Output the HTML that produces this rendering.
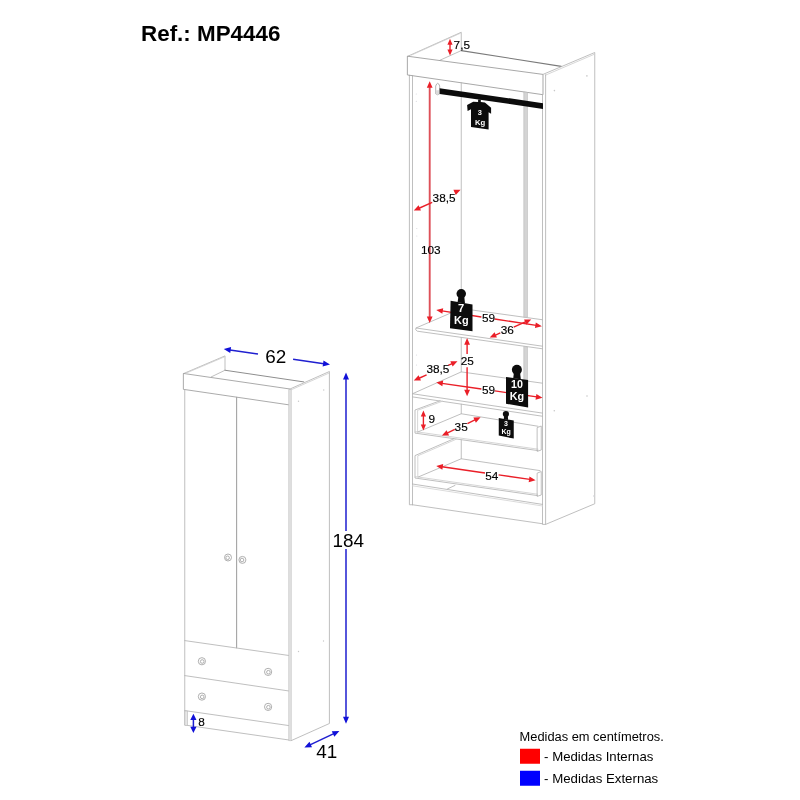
<!DOCTYPE html>
<html><head><meta charset="utf-8">
<style>
html,body{margin:0;padding:0;background:#fff;}
body{width:800px;height:800px;overflow:hidden;}
svg{display:block;will-change:transform;}
text{font-family:"Liberation Sans",sans-serif;fill:#000;}
.g{stroke:#b4b4b4;stroke-width:0.85;fill:none;stroke-linecap:round;stroke-linejoin:round;}
.gl{stroke:#c4c4c4;stroke-width:0.8;fill:none;}
.r{stroke:#ea1f28;stroke-width:1.4;fill:none;}
.rf{fill:#ea1f28;stroke:none;}
.b{stroke:#1f1fd0;stroke-width:1.5;fill:none;}
.bf{fill:#1111d8;stroke:none;}
.s{font-size:11.8px;stroke:#000;stroke-width:0.15px;}
.l{font-size:18.9px;}
.w{fill:#fff;font-weight:bold;text-anchor:middle;}
</style></head><body>
<svg width="800" height="800" viewBox="0 0 800 800">
<rect width="800" height="800" fill="#fff"/>
<text x="141" y="40.5" font-size="21.8" font-weight="bold" fill="#000" textLength="139.4" lengthAdjust="spacingAndGlyphs">Ref.: MP4446</text>

<!-- ================= OPEN CABINET ================= -->
<g class="g">
<!-- left panel -->
<path d="M409.4 75.3V504.75H412.5M412.5 76V504.75"/>
<!-- top of left panel -->
<path d="M407.75 56.25L461.25 32.25V50.6"/><path d="M411.5 55L460.3 33.3" stroke="#cfcfcf"/>
<path d="M461.25 50.6L439.8 60.3"/>
<path d="M461.25 50.6L561.25 66.4" stroke="#7a7a7a" stroke-width="1.1"/>
<!-- top rail -->
<path d="M407.75 56.25L543 74.4V94.7L407.75 75Z" stroke="#989898"/>
<!-- right panel -->
<path d="M543 74.4L594.75 52.5V503.75L545.6 524.4"/>
<path d="M545.4 75.2L594.2 54.3" stroke="#cfcfcf"/>
<path d="M542.5 94.7V524.4H545.6V74.8"/>
<!-- back-left vertical -->
<path d="M461.25 82.7V309M461.25 337.5V371.9M461.25 404.2V413.75M461.25 440V458.75"/>
<!-- shelf 1 -->
<path d="M416 328L461.25 308.5L542.5 319.75"/>
<path d="M542.5 346.2L416.2 328Q414.6 329.8 417.3 331.2L542.5 348.8"/>
<!-- shelf 2 -->
<path d="M412.5 393.75L461.25 371.9L542.5 383.2"/>
<path d="M412.5 393.75L542.5 413.1M412.5 396.9L542.5 416.25"/>
<!-- drawer 1 -->
<path d="M440 400.8L415 410V433.1L538 450.6"/>
<path d="M442.5 401.2L417.6 410.3V432.2" stroke="#cfcfcf"/>
<path d="M415.3 431.6L538 449.2" stroke="#cfcfcf"/>
<path d="M418 431.9L461.25 413.75L538 426.25"/>
<path d="M537.5 427.5L541.25 426V450L537.5 451.25Z"/>
<!-- drawer 2 -->
<path d="M453.75 438.8L415 455.6V478L537.5 495.6"/>
<path d="M456.3 439.2L417.8 455.8V477.2" stroke="#cfcfcf"/>
<path d="M415.3 476.6L537.5 494.2" stroke="#cfcfcf"/>
<path d="M418.5 476.9L461.25 458.75L540 470.6"/>
<path d="M537.5 473L541.25 471.5V495L537.5 496.25Z"/>
<!-- plinth -->
<path d="M412.5 484L542.5 504.4"/><path d="M412.5 485.8L542.5 506" stroke="#d4d4d4"/>
<path d="M412.5 504.75L542.5 523.75"/>
<path d="M447.5 488.9L455 485.4"/>
</g>
<!-- gray band -->
<path d="M523.75 92V317.2H527.5V92.5Z" fill="#d4d4d4" stroke="#b5b5b5" stroke-width="0.5"/>
<path d="M523.75 346.4V380.4L527.5 381V347Z" fill="#d4d4d4" stroke="#b5b5b5" stroke-width="0.5"/>
<!-- small dots -->
<g fill="#c8c8c8">
<circle cx="586.9" cy="75.9" r="0.8"/><circle cx="554.4" cy="90.6" r="0.8"/>
<circle cx="587" cy="396" r="0.8"/><circle cx="554.3" cy="410.8" r="0.8"/>
</g>
<g fill="#d9d9de"><circle cx="416.3" cy="94" r="0.6"/><circle cx="416.3" cy="101.3" r="0.6"/><circle cx="416.8" cy="228.5" r="0.6"/><circle cx="416.8" cy="236" r="0.6"/><circle cx="416.5" cy="355" r="0.6"/><circle cx="416.5" cy="365" r="0.6"/><circle cx="593.6" cy="496" r="0.7"/></g>
<!-- rod bracket -->
<path d="M435.7 93.8V86Q437.7 80.5 439.7 86V93.8Q437.7 95.8 435.7 93.8Z" fill="#fff" stroke="#a0a0a0" stroke-width="0.8"/><path d="M435.9 90.2H439.5V93.8Q437.7 95.6 435.9 93.8Z" fill="#dadada"/>
<!-- rod -->
<path d="M439.6 88.2L543 103.2V108.9L439.6 93.9Z" fill="#0c0c0c"/>

<!-- hanger 3kg -->
<path d="M478.1 99.5H480.8V101.9L484.9 102.5L491.1 107.75V113.75L488.6 112.25V129.5L471 127.1V109.25L467.6 111.1L467.1 105.1L473.25 101.75L478.1 102Z" fill="#0c0c0c"/>
<text class="w" x="479.7" y="115.2" font-size="7.4">3</text>
<text class="w" x="480" y="124.6" font-size="7.7">Kg</text>

<!-- RED ARROWS -->
<path class="r" d="M450.00 43.95L450.00 50.40"/><path class="rf" d="M450.00 38.75L447.40 44.75L452.60 44.75ZM450.00 55.60L447.40 49.60L452.60 49.60Z"/>
<path class="r" style="stroke:#de5058;stroke-width:1.9" d="M429.70 87.05L429.70 317.20"/><path class="rf" d="M429.70 81.25L426.80 87.85L432.60 87.85ZM429.70 323.00L426.80 316.40L432.60 316.40Z"/>
<path class="r" d="M419.05 208.24L432.20 202.39M455.00 192.24L455.30 192.11"/><path class="rf" d="M413.75 210.60L420.96 210.57L418.60 205.27ZM460.60 189.75L455.75 195.08L453.39 189.78Z"/>
<path class="r" d="M441.98 310.88L481.40 316.94M494.60 318.97L536.17 325.37"/><path class="rf" d="M436.25 310.00L442.33 313.87L443.21 308.14ZM541.90 326.25L534.94 328.11L535.82 322.38Z"/>
<path class="r" d="M495.01 335.27L500.30 332.96M513.70 327.09L525.94 321.73"/><path class="rf" d="M489.70 337.60L496.91 337.61L494.58 332.30ZM531.25 319.40L526.37 324.70L524.04 319.39Z"/>
<path class="r" d="M467.10 343.90L467.10 354.00M467.10 367.30L467.10 390.45"/><path class="rf" d="M467.10 338.10L464.20 344.70L470.00 344.70ZM467.10 396.25L464.20 389.65L470.00 389.65Z"/>
<path class="r" d="M419.05 378.25L426.60 374.92M448.20 365.36L452.20 363.60"/><path class="rf" d="M413.75 380.60L420.96 380.58L418.61 375.28ZM457.50 361.25L452.64 366.57L450.29 361.27Z"/>
<path class="r" d="M441.99 383.32L481.40 388.98M494.80 390.90L536.76 396.93"/><path class="rf" d="M436.25 382.50L442.37 386.31L443.20 380.57ZM542.50 397.75L535.55 399.68L536.38 393.94Z"/>
<path class="r" d="M423.40 415.80L423.40 425.40"/><path class="rf" d="M423.40 410.60L420.80 416.60L426.00 416.60ZM423.40 430.60L420.80 424.60L426.00 424.60Z"/>
<path class="r" d="M447.14 433.12L454.80 429.48M467.40 423.51L475.36 419.73"/><path class="rf" d="M441.90 435.60L449.11 435.39L446.62 430.15ZM480.60 417.25L475.88 422.70L473.39 417.46Z"/>
<path class="r" d="M441.99 466.73L485.00 472.94M498.60 474.91L529.86 479.42"/><path class="rf" d="M436.25 465.90L442.37 469.71L443.20 463.97ZM535.60 480.25L528.65 482.18L529.48 476.44Z"/>

<!-- weights -->
<g fill="#0c0c0c">
<path d="M450.6 300.8L472.5 304.6V331.2L450 328.2Z"/><circle cx="461.25" cy="293.75" r="4.75"/><path d="M458.5 296H464.2L465 303.5L457.6 302.2Z"/>
<path d="M506 376.9L528.1 380V407.5L506 403.75Z"/><circle cx="516.9" cy="369.8" r="5"/><path d="M514 372H520L520.8 379.3L513.2 378.2Z"/>
<path d="M498.75 418L513.75 420.6V438.5L498.75 435.6Z"/><circle cx="505.9" cy="414" r="3.1"/><path d="M504.2 415.5H507.7L508.2 420L503.7 419.2Z"/>
</g>
<text class="w" x="461" y="312" font-size="11.2">7</text>
<text class="w" x="461.3" y="323.7" font-size="10.9">Kg</text>
<text class="w" x="517" y="387.7" font-size="10.7">10</text>
<text class="w" x="517" y="399.7" font-size="10.8">Kg</text>
<text class="w" x="506" y="425.6" font-size="7">3</text>
<text class="w" x="506.2" y="433.6" font-size="7">Kg</text>

<!-- dimension text (red) -->
<g class="s">
<text x="453.6" y="49.4">7,5</text>
<text x="421" y="254.4">103</text>
<text x="432.6" y="202.3">38,5</text>
<text x="482" y="322">59</text>
<text x="500.8" y="334.4">36</text>
<text x="460.8" y="365">25</text>
<text x="426.4" y="373.3">38,5</text>
<text x="482" y="394.4">59</text>
<text x="428.6" y="422.6">9</text>
<text x="454.6" y="430.6">35</text>
<text x="485.2" y="480">54</text>
</g>

<!-- ================= CLOSED CABINET ================= -->
<g class="g">
<path d="M183.75 373.5L225 355.9V370.25"/><path d="M225 370.25L303.75 381.9" stroke="#8e8e8e" stroke-width="1"/>
<path d="M187.3 372.6L224.2 357" stroke="#cfcfcf"/>
<path d="M225 370.25L211.25 376.9"/>
<path d="M183.75 373.5L290 389V405L183.75 389.4Z" stroke="#9c9c9c"/>
<path d="M290 389L329.4 371.5V723.5L291.25 740.6"/>
<path d="M291.6 389.6L328.8 373.2" stroke="#cfcfcf"/>
<path d="M184.75 389.6V725L289 740"/>
<path d="M236.6 397.2V647.8" stroke="#a4a4a4" stroke-width="1.1"/>
<path d="M184.75 640.6L289 655.5M184.75 675.6L289 691M184.75 710.6L289 725.6"/>
</g>
<path d="M288.75 389.4H291.25V740.6H288.75Z" fill="#e6e6e6" stroke="#b8b8b8" stroke-width="0.6"/>
<path d="M184.75 711H187.5V725.4H184.75Z" fill="#e6e6e6" stroke="#b8b8b8" stroke-width="0.6"/>
<g fill="#fff" stroke="#a2a2a2" stroke-width="0.85">
<circle cx="228" cy="557.5" r="3.5"/><circle cx="242.4" cy="559.9" r="3.5"/>
<circle cx="201.9" cy="661.25" r="3.6"/><circle cx="268.1" cy="671.9" r="3.6"/>
<circle cx="201.9" cy="696.6" r="3.6"/><circle cx="268.1" cy="706.9" r="3.6"/>
<circle cx="227.6" cy="557.8" r="1.8"/><circle cx="242" cy="560" r="1.8"/>
<circle cx="202.2" cy="661.5" r="1.8"/><circle cx="268.4" cy="672.2" r="1.8"/>
<circle cx="202.2" cy="696.9" r="1.8"/><circle cx="268.4" cy="707.2" r="1.8"/>
</g>
<g fill="#c8c8c8">
<circle cx="298.5" cy="401.25" r="0.7"/><circle cx="323.75" cy="390" r="0.7"/>
<circle cx="298.5" cy="651.5" r="0.7"/><circle cx="323.5" cy="641" r="0.7"/>
</g>

<!-- BLUE ARROWS -->
<path class="b" d="M229.88 349.90L258.00 354.03M293.10 359.18L323.87 363.70"/><path class="bf" d="M223.75 349.00L230.24 352.99L231.11 347.05ZM330.00 364.60L322.64 366.55L323.51 360.61Z"/>
<path class="b" d="M346.00 378.70L346.00 531.00M346.00 549.00L346.00 717.55"/><path class="bf" d="M346.00 372.50L343.00 379.50L349.00 379.50ZM346.00 723.75L343.00 716.75L349.00 716.75Z"/>
<path class="b" d="M193.40 719.25L193.40 727.60"/><path class="bf" d="M193.40 713.75L190.30 720.05L196.50 720.05ZM193.40 733.10L190.30 726.80L196.50 726.80Z"/>
<path class="b" d="M310.01 744.86L333.79 733.64"/><path class="bf" d="M304.40 747.50L312.01 747.23L309.45 741.80ZM339.40 731.00L334.35 736.70L331.79 731.27Z"/>
<text class="l" x="265.2" y="363.1">62</text>
<text class="l" x="332.6" y="547">184</text>
<text class="l" x="316.3" y="757.5">41</text>
<text class="s" x="198.2" y="725.6">8</text>

<!-- LEGEND -->
<text x="519.6" y="741.2" font-size="12.85">Medidas em centímetros.</text>
<rect x="520" y="748.75" width="20" height="15" fill="#f00"/>
<text x="544.1" y="760.5" font-size="13.2">- Medidas Internas</text>
<rect x="520" y="770.75" width="20" height="15" fill="#00f"/>
<text x="544.1" y="783.3" font-size="13.25">- Medidas Externas</text>
</svg>
</body></html>
